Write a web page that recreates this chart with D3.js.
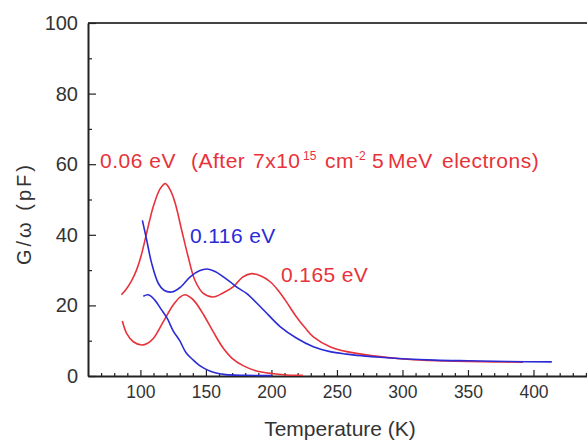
<!DOCTYPE html>
<html>
<head>
<meta charset="utf-8">
<script src="https://cdn.jsdelivr.net/npm/d3@7"></script>
<style>
  html, body { margin: 0; padding: 0; background: #fff; }
  svg { display: block; font-family: "Liberation Sans", Arial, sans-serif; }
</style>
</head>
<body>
<svg id="chart" width="587" height="443"></svg>
<script>
// ---- data ----
const redTopT = [85.5, 89, 93, 97, 100.5, 103.5, 107, 110, 115, 119, 123, 126.5, 131.5, 136.5, 141.5, 148, 155.5, 163, 171, 178, 185, 192, 199, 205, 210.5, 219, 226, 232, 244.7, 257.5, 278, 300, 320, 350, 370, 392];
const redTopG = [23, 24.5, 26.8, 30, 34, 38.5, 44, 48.2, 53, 54.5, 52.5, 49, 41.3, 33.7, 27.2, 23.4, 22.4, 23.5, 25.3, 28, 29, 28.3, 26.7, 24.3, 21.5, 16.8, 13.5, 11.1, 8.3, 6.9, 5.7, 4.8, 4.4, 4.1, 4.0, 3.9];

const blueTopT = [101.5, 104.8, 108.6, 113.7, 118, 124, 130, 138, 145, 151, 157, 163.3, 169, 175, 181, 194, 206.6, 219.3, 232, 244.7, 257, 270, 283, 300, 325, 350, 380, 414];
const blueTopG = [44.1, 38.5, 31.9, 26.2, 24.3, 23.8, 25, 28.1, 29.8, 30.3, 29.6, 28.1, 26.5, 24.8, 23.4, 18.7, 14, 10.7, 8.3, 6.9, 6.2, 5.7, 5.3, 4.9, 4.5, 4.3, 4.1, 4.0];

const redBotT = [86.2, 89.5, 94.6, 101, 105.5, 110, 117.5, 125, 130, 134, 138, 141.7, 148, 155.6, 163, 170, 178, 188, 200, 212, 224];
const redBotG = [15.6, 12.1, 9.7, 8.8, 9.3, 10.7, 15.4, 20.1, 22.3, 23, 22.3, 21, 17.5, 12.5, 8, 5, 3, 1.5, 0.7, 0.3, 0.2];

const blueBotT = [102.2, 106, 111, 116, 120.5, 125, 130, 135, 140.4, 145, 150.6, 157, 165, 180, 200];
const blueBotG = [22.6, 23, 21.5, 18.8, 16.3, 12.8, 10, 6.5, 4.5, 3, 1.8, 0.9, 0.4, 0.2, 0.1];

const xMajorTicks = [100, 150, 200, 250, 300, 350, 400];
const yMajorTicks = [0, 20, 40, 60, 80, 100];

const xLabel = "Temperature (K)";
const yLabel = "G/\u03C9 (pF)";
const label006 = "0.06 eV";
const label116 = "0.116 eV";
const label165 = "0.165 eV";

// ---- drawing ----
const RED = "#e8323a", BLUE = "#2b2bd6";
const svg = d3.select("#chart");
const x = d3.scaleLinear().domain([60, 450]).range([88, 599]);
const y = d3.scaleLinear().domain([0, 100]).range([376, 23]);

// frame top line
svg.append("line")
  .attr("x1", x(60)).attr("x2", x(450))
  .attr("y1", y(100)).attr("y2", y(100))
  .attr("stroke", "#444").attr("stroke-width", 2);

// minor x ticks
const xMinor = d3.range(70, 450, 10).filter(v => v % 50 !== 0);
svg.append("g").attr("transform", `translate(0,${y(0)})`)
  .call(d3.axisBottom(x).tickValues(xMinor).tickSize(-3).tickFormat(""))
  .call(g => g.select(".domain").remove())
  .selectAll("line").attr("stroke", "#222").attr("stroke-width", 1.2);

// major x axis
const gx = svg.append("g").attr("transform", `translate(0,${y(0)})`)
  .call(d3.axisBottom(x).tickValues(xMajorTicks).tickSize(-6).tickPadding(9.5).tickSizeOuter(0));
gx.select(".domain").attr("stroke", "#222").attr("stroke-width", 2);
gx.selectAll(".tick line").attr("stroke", "#222").attr("stroke-width", 1.2);
gx.selectAll("text").attr("font-size", 17.5).attr("fill", "#333")
  .attr("font-family", "Liberation Sans, Arial, sans-serif");

// minor y ticks
svg.append("g").attr("transform", `translate(${x(60)},0)`)
  .call(d3.axisLeft(y).tickValues([10, 30, 50, 70, 90]).tickSize(-4).tickFormat(""))
  .call(g => g.select(".domain").remove())
  .selectAll("line").attr("stroke", "#222").attr("stroke-width", 1.2);

// major y axis
const gy = svg.append("g").attr("transform", `translate(${x(60)},0)`)
  .call(d3.axisLeft(y).tickValues(yMajorTicks).tickSize(-8).tickPadding(10).tickSizeOuter(0));
gy.select(".domain").attr("stroke", "#222").attr("stroke-width", 2);
gy.selectAll(".tick line").attr("stroke", "#222").attr("stroke-width", 1.2);
gy.selectAll("text").attr("font-size", 20).attr("fill", "#333")
  .attr("font-family", "Liberation Sans, Arial, sans-serif");

// axis titles
svg.append("text").attr("x", 340).attr("y", 436)
  .attr("text-anchor", "middle").attr("font-size", 21).attr("fill", "#333")
  .text(xLabel);
svg.append("text").attr("transform", "translate(31,215) rotate(-90)")
  .attr("text-anchor", "middle").attr("font-size", 20).attr("fill", "#333")
  .attr("textLength", 100).attr("lengthAdjust", "spacing")
  .text(yLabel);

// curves
const line = d3.line().x(d => x(d[0])).y(d => y(d[1])).curve(d3.curveCatmullRom.alpha(0.5));
const series = [
  [redBotT, redBotG, RED],
  [blueBotT, blueBotG, BLUE],
  [redTopT, redTopG, RED],
  [blueTopT, blueTopG, BLUE]
];
series.forEach(([T, G, c]) => {
  svg.append("path")
    .datum(d3.zip(T, G))
    .attr("fill", "none").attr("stroke", c).attr("stroke-width", 1.6)
    .attr("d", line);
});

// annotations
const a = svg.append("text").attr("y", 168).attr("font-size", 21).attr("fill", RED)
  .attr("letter-spacing", 0.5);
a.append("tspan").attr("x", 100).text(label006);
a.append("tspan").attr("x", 191).text("(After");
a.append("tspan").attr("x", 253).text("7x10");
a.append("tspan").attr("x", 303).attr("dy", -8).attr("font-size", 12).attr("letter-spacing", 0).text("15");
a.append("tspan").attr("x", 325).attr("dy", 8).text("cm");
a.append("tspan").attr("x", 355).attr("dy", -8).attr("font-size", 12).attr("letter-spacing", 0).text("-2");
a.append("tspan").attr("x", 372).attr("dy", 8).text("5");
a.append("tspan").attr("x", 388).text("MeV");
a.append("tspan").attr("x", 442).text("electrons)");

svg.append("text").attr("x", 190).attr("y", 243).attr("font-size", 21).attr("fill", BLUE)
  .attr("letter-spacing", 0.4).text(label116);
svg.append("text").attr("x", 281).attr("y", 282).attr("font-size", 21).attr("fill", RED)
  .attr("letter-spacing", 0.4).text(label165);
</script>
</body>
</html>
